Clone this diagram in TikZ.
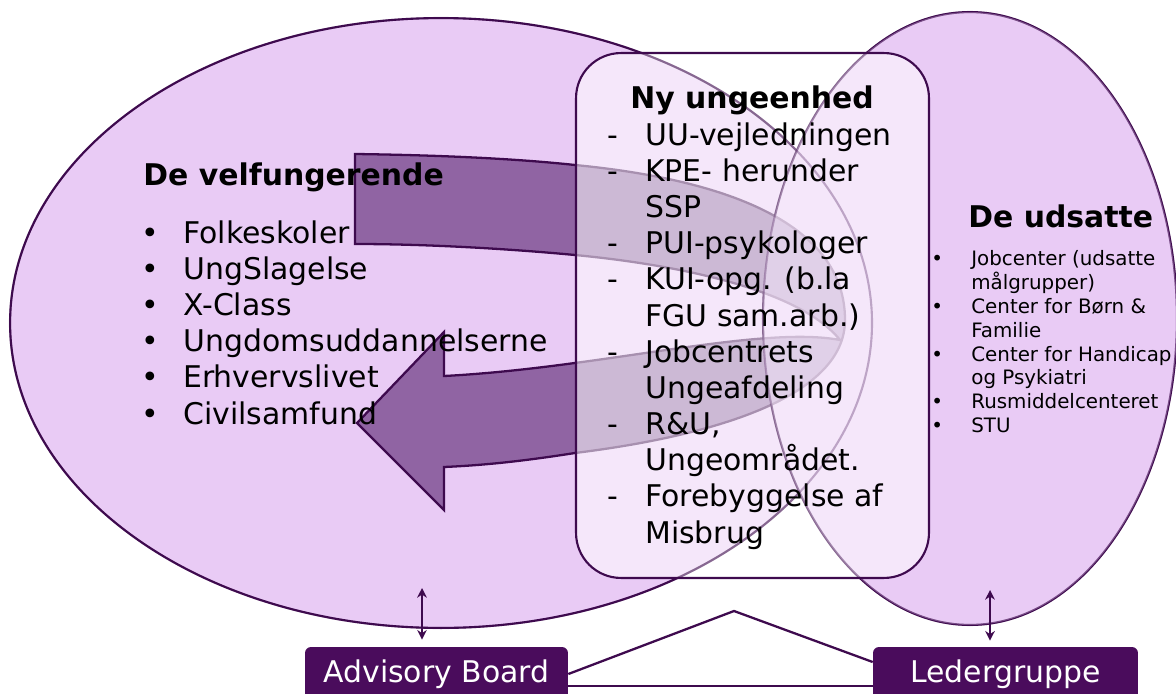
\documentclass[tikz,border=0pt]{standalone}
\usepackage{fontspec}
\setmainfont{DejaVu Sans}
\usetikzlibrary{shapes.geometric,arrows.meta}
\definecolor{lilla}{RGB}{233,203,245}
\definecolor{moerk}{RGB}{62,10,78}
\definecolor{pil}{RGB}{144,100,163}
\definecolor{boks}{RGB}{74,12,92}

\begin{document}
\begin{tikzpicture}[x=0.02cm, y=-0.02cm]
	\tikzstyle{Gruppe} = [ellipse, draw=moerk, line width=1.2pt, fill=lilla, inner sep=0pt]
	\tikzstyle{Enhed} = [rectangle, rounded corners=0.9cm, draw=moerk, line width=1.2pt, fill=white, fill opacity=0.55, minimum width=7.06cm, minimum height=10.5cm]
	\tikzstyle{Titel} = [anchor=base west, inner sep=0pt, font=\fontsize{17}{20.6}\selectfont\bfseries]
	\tikzstyle{Liste} = [anchor=north west, inner sep=0pt, align=left, font=\fontsize{17}{20.6}\selectfont]
	\tikzstyle{Lille} = [anchor=north west, inner sep=0pt, align=left, font=\fontsize{11.3}{13.6}\selectfont]
	\tikzstyle{Boks} = [rectangle, rounded corners=0.12cm, fill=boks, text=white, inner sep=0pt, minimum height=1.08cm, font=\fontsize{17}{20}\selectfont]
	\tikzstyle{Streg} = [draw=moerk, line width=1.3pt]
	\tikzstyle{Svag} = [draw=moerk, draw opacity=0.3, line width=1.2pt]
	\tikzstyle{Dobbelt} = [draw=moerk, line width=0.8pt, >={Stealth[length=5.5pt,width=5.5pt]}, <->]
	\useasboundingbox (0,0) rectangle (1176,693);
	% grupperne
	\node (velf) at (441,323) [Gruppe, minimum width=17.24cm, minimum height=12.2cm] {};
	\node (udsat) at (970,318.5) [Gruppe, minimum width=8.28cm, minimum height=12.26cm] {};
	% U-pilen
	\draw [Streg, fill=pil] (355,154) .. controls (430,155) and (510,158) .. (575,165)
		.. controls (730,180) and (845,225) .. (845,320)
		.. controls (845,395) and (720,435) .. (575,453)
		.. controls (530,460) and (490,465) .. (444,467)
		-- (444,510) -- (357,423) -- (444,332) -- (444,376)
		.. controls (600,368) and (760,325) .. (840,340)
		.. controls (800,290) and (680,265) .. (575,255)
		.. controls (500,248) and (420,244) .. (355,244) -- cycle;
	\fill [lilla, fill opacity=0.5] (udsat.center) ellipse [x radius=207, y radius=306.5];
	% ungeenheden
	\node (enhed) at (752.5,315.5) [Enhed] {};
	\draw [Svag] (velf.center) ellipse [x radius=431, y radius=305];
	\draw [Svag] (udsat.center) ellipse [x radius=207, y radius=306.5];
	% tekster
	\node (titelV) at (143,185) [Titel] {De velfungerende};
	\node (listeV) at (141,220) [Liste] {\makebox[0.84cm][l]{•}Folkeskoler\\
		\makebox[0.84cm][l]{•}UngSlagelse\\
		\makebox[0.84cm][l]{•}X-Class\\
		\makebox[0.84cm][l]{•}Ungdomsuddannelserne\\
		\makebox[0.84cm][l]{•}Erhvervslivet\\
		\makebox[0.84cm][l]{•}Civilsamfund};
	\node (titelN) at (630,108) [Titel] {Ny ungeenhed};
	\node (listeN) at (607,122) [Liste] {\makebox[0.76cm][l]{-}UU-vejledningen\\
		\makebox[0.76cm][l]{-}KPE- herunder\\
		\hspace*{0.76cm}SSP\\
		\makebox[0.76cm][l]{-}PUI-psykologer\\
		\makebox[0.76cm][l]{-}KUI-opg. (b.la\\
		\hspace*{0.76cm}FGU sam.arb.)\\
		\makebox[0.76cm][l]{-}Jobcentrets\\
		\hspace*{0.76cm}Ungeafdeling\\
		\makebox[0.76cm][l]{-}R\&U,\\
		\hspace*{0.76cm}Ungeområdet.\\
		\makebox[0.76cm][l]{-}Forebyggelse af\\
		\hspace*{0.76cm}Misbrug};
	\node (titelU) at (968,227) [Titel] {De udsatte};
	\node (listeU) at (931,250) [Lille] {\makebox[0.8cm][l]{•}Jobcenter (udsatte\\
		\hspace*{0.8cm}målgrupper)\\
		\makebox[0.8cm][l]{•}Center for Børn \&\\
		\hspace*{0.8cm}Familie\\
		\makebox[0.8cm][l]{•}Center for Handicap\\
		\hspace*{0.8cm}og Psykiatri\\
		\makebox[0.8cm][l]{•}Rusmiddelcenteret\\
		\makebox[0.8cm][l]{•}STU};
	% ledelse
	\node (board) at (436.5,674) [Boks, minimum width=5.26cm] {Advisory Board};
	\node (leder) at (1005.5,674) [Boks, minimum width=5.3cm] {Ledergruppe};
	\coordinate (spids) at (734,611);
	\draw [Streg] (board.east) to (spids) to ([yshift=0.24cm]leder.west);
	\draw [Streg] ([yshift=-0.24cm]board.east) to ([yshift=-0.24cm]leder.west);
	\coordinate (v) at (422,588);
	\coordinate (u) at (990,590);
	\draw [Dobbelt, shorten >=0.14cm] (v) to (v |- board.north);
	\draw [Dobbelt, shorten >=0.12cm] (u) to (u |- leder.north);
\end{tikzpicture}
\end{document}
